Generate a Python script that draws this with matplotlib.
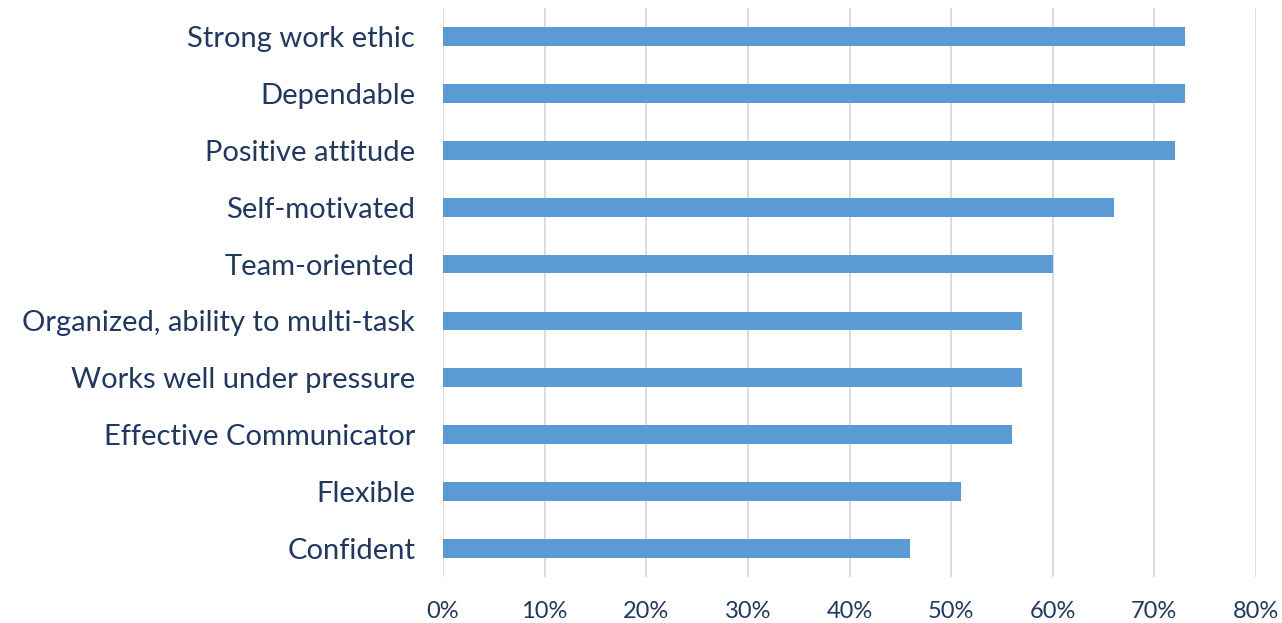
import matplotlib
matplotlib.use("Agg")
import matplotlib.pyplot as plt
from matplotlib.ticker import PercentFormatter

# Employer-rated attributes, listed top to bottom
attributes = [
    "Strong work ethic",
    "Dependable",
    "Positive attitude",
    "Self-motivated",
    "Team-oriented",
    "Organized, ability to multi-task",
    "Works well under pressure",
    "Effective Communicator",
    "Flexible",
    "Confident",
]
shares = [0.73, 0.73, 0.72, 0.66, 0.60, 0.57, 0.57, 0.56, 0.51, 0.46]
x_ticks = [0.0, 0.1, 0.2, 0.3, 0.4, 0.5, 0.6, 0.7, 0.8]

text_color = "#1F3864"
bar_color = "#5B9BD5"
grid_color = "#D9D9D9"

plt.rcParams["font.family"] = ["Lato", "DejaVu Sans"]

fig = plt.figure(figsize=(12.82, 6.23), dpi=100)
ax = fig.add_axes([443 / 1282, 1 - 577 / 623, (1256 - 443) / 1282, (577 - 8) / 623])

ypos = list(range(len(attributes)))
ax.barh(ypos, shares, height=0.33, color=bar_color, zorder=3)

ax.set_ylim(len(attributes) - 0.5, -0.5)
ax.set_xlim(0, 0.8)
ax.set_yticks(ypos)
ax.set_yticklabels(attributes)
ax.set_xticks(x_ticks)
ax.xaxis.set_major_formatter(PercentFormatter(1.0, decimals=0))

ax.grid(axis="x", color=grid_color, linewidth=1.3, zorder=0)
for spine in ax.spines.values():
    spine.set_visible(False)
ax.tick_params(axis="y", length=0, pad=20, labelsize=21, labelcolor=text_color)
ax.tick_params(axis="x", length=0, pad=17, labelsize=17, labelcolor=text_color)

fig.savefig("out.png", dpi=100)
